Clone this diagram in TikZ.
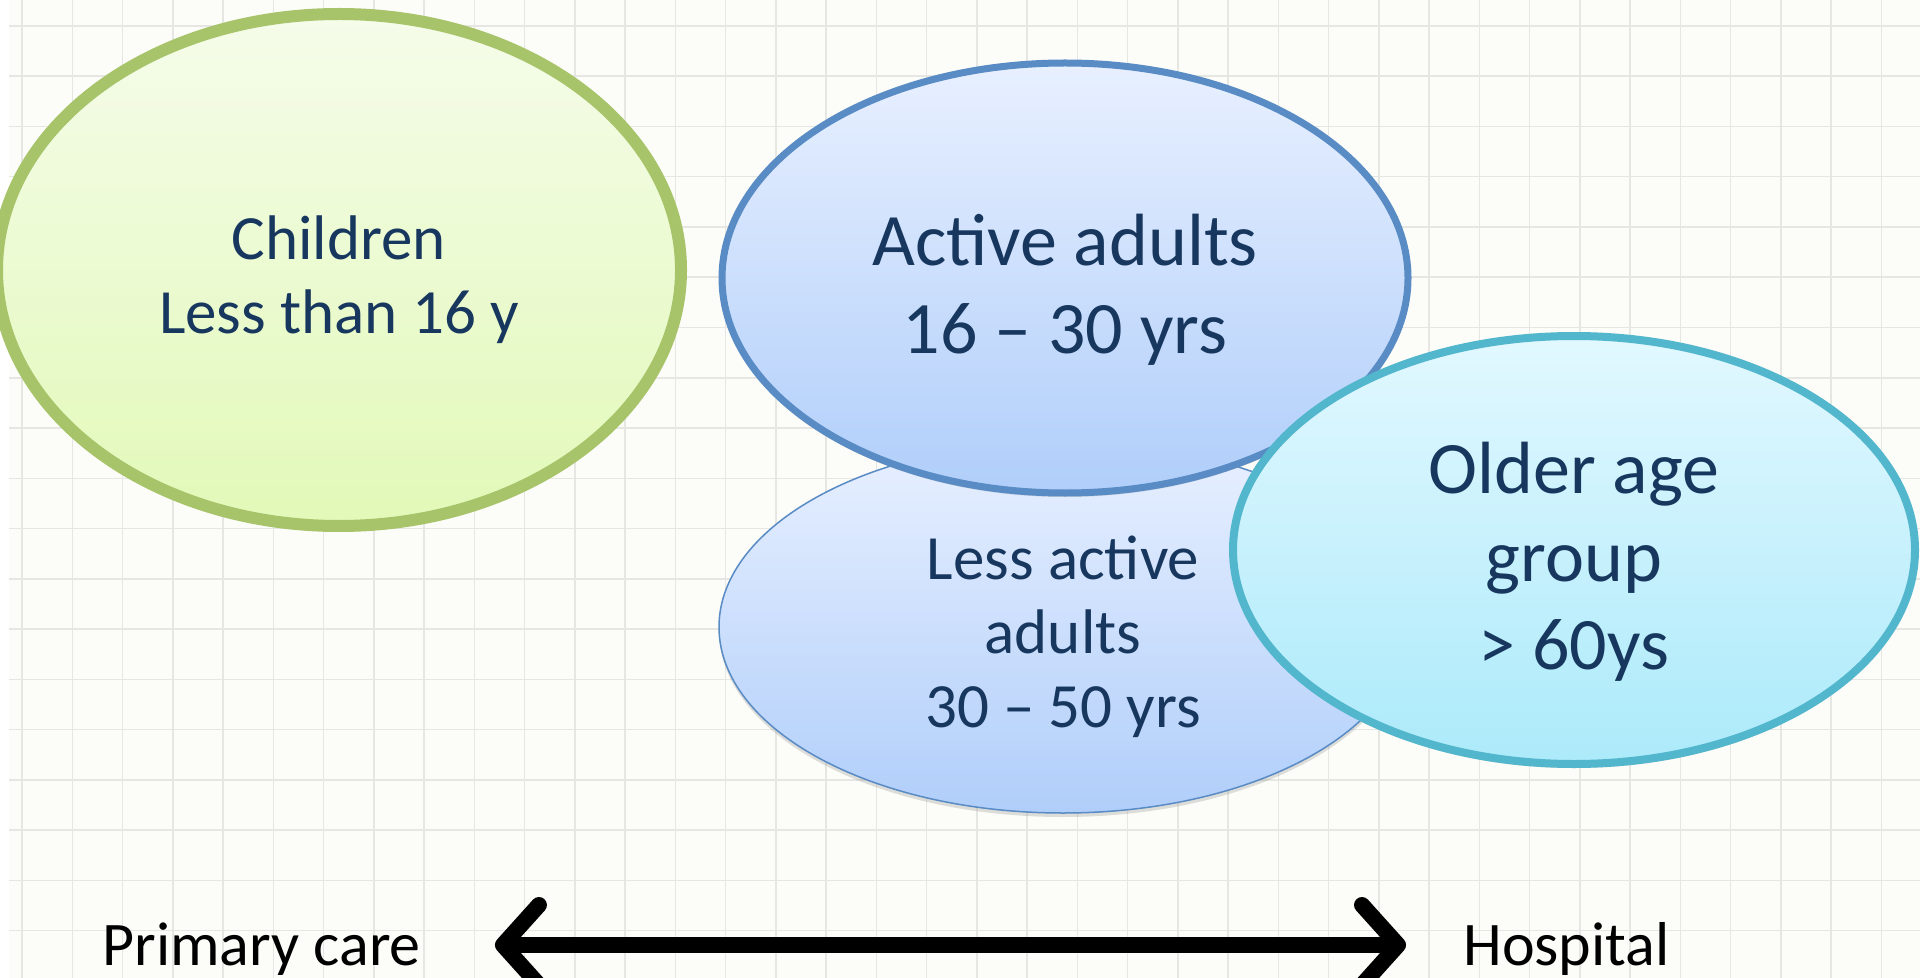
\documentclass[tikz,border=0pt]{standalone}
\usepackage{fontspec}
\setmainfont{Carlito}
\usepackage{xcolor}
\usepackage{tikz}
\usetikzlibrary{arrows.meta,shapes.geometric,shadows}
\definecolor{paper}{RGB}{252,252,248}
\definecolor{gridline}{RGB}{230,230,226}
\definecolor{labeltext}{RGB}{23,55,94}
\definecolor{childline}{RGB}{168,196,106}
\definecolor{childtop}{RGB}{245,252,234}
\definecolor{childbot}{RGB}{226,249,184}
\definecolor{adultline}{RGB}{89,139,196}
\definecolor{adulttop}{RGB}{232,240,255}
\definecolor{adultbot}{RGB}{176,206,250}
\definecolor{olderline}{RGB}{82,182,204}
\definecolor{oldertop}{RGB}{226,248,255}
\definecolor{olderbot}{RGB}{172,234,250}
\newcommand{\lift}{\rule{0pt}{1em}}

\begin{document}
\begin{tikzpicture}[
  x=0.5pt, y=-0.5pt,
  group/.style={ellipse, inner sep=0pt, align=center, text=labeltext,
    drop shadow={opacity=0.25, shadow xshift=0pt, shadow yshift=-2pt}},
  big/.style={font=\fontsize{37}{44}\selectfont},
  small/.style={font=\fontsize{31.5}{37}\selectfont},
  side/.style={anchor=base west, inner sep=0pt, text=black, font=\fontsize{31}{37}\selectfont},
  arr/.style={line width=8pt, {Straight Barb[length=18pt,width=40pt,round]}-{Straight Barb[length=18pt,width=40pt,round]}}
]
  \useasboundingbox (0,0) rectangle (1920,978);
  % squared paper
  \fill[white] (0,0) rectangle (1920,978);
  \fill[paper] (9,0) rectangle (1920,978);
  \foreach \gx in {0,...,37}
    \draw[gridline, line width=0.75pt] ({22+50.25*\gx},0) -- ({22+50.25*\gx},978);
  \foreach \gy in {0,...,18}
    \draw[gridline, line width=0.75pt] (9,{26+50.25*\gy}) -- (1920,{26+50.25*\gy});

  % age groups
  \node[group, small, draw=childline, line width=6pt, top color=childtop, bottom color=childbot,
        minimum width=342pt, minimum height=256pt] (children) at (339,270) {\lift Children\\Less than 16 y};
  \node[group, small, draw=adultline, line width=0.75pt, top color=adulttop, bottom color=adultbot,
        minimum width=344pt, minimum height=186pt] (lessactive) at (1063,627) {\lift Less active\\adults\\30 -- 50 yrs};
  \node[group, big, draw=adultline, line width=3.5pt, top color=adulttop, bottom color=adultbot,
        minimum width=343pt, minimum height=215pt] (active) at (1065,278) {\lift Active adults\\16 -- 30 yrs};
  \node[group, big, draw=olderline, line width=4pt, top color=oldertop, bottom color=olderbot,
        minimum width=341pt, minimum height=214pt] (older) at (1574,550) {\lift Older age\\group\\> 60ys};

  % care setting
  \node[side] (primary) at (102,965) {Primary care};
  \node[side] (hospital) at (1463,965) {Hospital};
  \draw[arr, shorten <=37pt, shorten >=28.5pt] ([yshift=10pt]primary.base east) -- ([yshift=10pt]hospital.base west);
\end{tikzpicture}
\end{document}
